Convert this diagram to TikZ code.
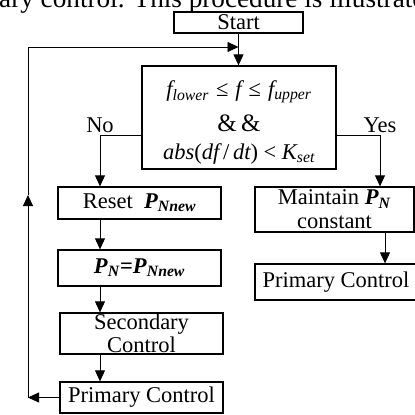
\documentclass[tikz,border=0pt]{standalone}
\usepackage{fontspec}
\setmainfont{Liberation Serif}
\usetikzlibrary{arrows.meta, positioning, calc}
\newcommand{\pvar}[1]{\textbf{\textit{P}}\textsubscript{\textbf{\textit{#1}}}}

\begin{document}
\begin{tikzpicture}[
    x=1pt, y=-1pt,
    every node/.style={font=\fontsize{22.5}{24}\selectfont},
    box/.style={rectangle, draw, line width=1.3pt, inner sep=0pt, align=center},
    arrow/.style={-{Triangle[length=11pt,width=10pt]}, line width=0.8pt}
]
    \clip (0,0) rectangle (415,415);

    % Running text above the chart
    \node[anchor=base west, inner sep=0pt, font=\fontsize{27.2}{29}\selectfont] (intro) at (-1,7) {ary control. This procedure is illustrated};

    % Start and test
    \node[box, minimum width=129pt, minimum height=21pt] (start) at (238.5,22.5) {Start};
    \node[box, minimum width=194pt, minimum height=103pt] (check) at (239,117.5) {};
    \node[align=center, inner sep=0pt] (cond) at (239,122.5) {%
        {\itshape f}\textsubscript{\itshape lower}\hspace{7pt}≤\hspace{7pt}{\itshape f}\hspace{7pt}≤\hspace{7pt}{\itshape f}\textsubscript{\itshape upper}\\[11pt]
        {\fontsize{25}{24}\selectfont\&\,\&}\\[4pt]
        {\itshape abs}({\itshape df}\,/\,{\itshape dt})~<~{\itshape K}\textsubscript{\itshape set}};

    % No branch
    \node[box, minimum width=163pt, minimum height=32pt] (reset) at (139.5,203) {Reset~~\pvar{Nnew}};
    \node[box, minimum width=163pt, minimum height=36pt] (setpn) at (139.5,268) {\pvar{N}\textbf{=}\pvar{Nnew}};
    \node[box, minimum width=163pt, minimum height=41pt, font=\fontsize{22.5}{23}\selectfont] (second) at (141.5,333.5) {Secondary\\Control};
    \node[box, minimum width=163pt, minimum height=31pt] (primL) at (141.5,397.5) {Primary Control};

    % Yes branch
    \node[box, minimum width=159pt, minimum height=45pt] (maintain) at (334.5,209.5) {Maintain \pvar{N}\\constant};
    \node[box, minimum width=162pt, minimum height=36pt] (primR) at (336,282) {Primary Control};

    % Columns for the arrows
    \coordinate (lcol) at (100,0);
    \coordinate (rcol) at (380,0);
    \coordinate (rcolB) at (385,0);

    % Arrows
    \draw[arrow] (start) -- (start |- check.north);
    \draw[arrow] ([yshift=-17.5pt]check.west) -| node[pos=0.5, above, inner sep=2pt] (nolbl) {No} (reset.north -| lcol);
    \draw[arrow] ([yshift=-17.5pt]check.east) -| node[pos=0.5, above, inner sep=2pt] (yeslbl) {Yes} (maintain.north -| rcol);
    \draw[arrow] (reset.south -| lcol) -- (setpn.north -| lcol);
    \draw[arrow] (setpn.south -| lcol) -- (second.north -| lcol);
    \draw[arrow] (second.south -| lcol) -- (primL.north -| lcol);
    \draw[arrow] (maintain.south -| rcolB) -- (primR.north -| rcolB);

    % Feedback loop
    \coordinate (fbLow) at (28,397.5);
    \coordinate (fbMid) at (28,195);
    \coordinate (fbTop) at (28,47);
    \draw[arrow] (primL.west) -- (fbLow);
    \draw[arrow] (fbLow) -- (fbMid);
    \draw[arrow] (fbMid) -- (fbTop) -- (fbTop -| start);
\end{tikzpicture}
\end{document}
